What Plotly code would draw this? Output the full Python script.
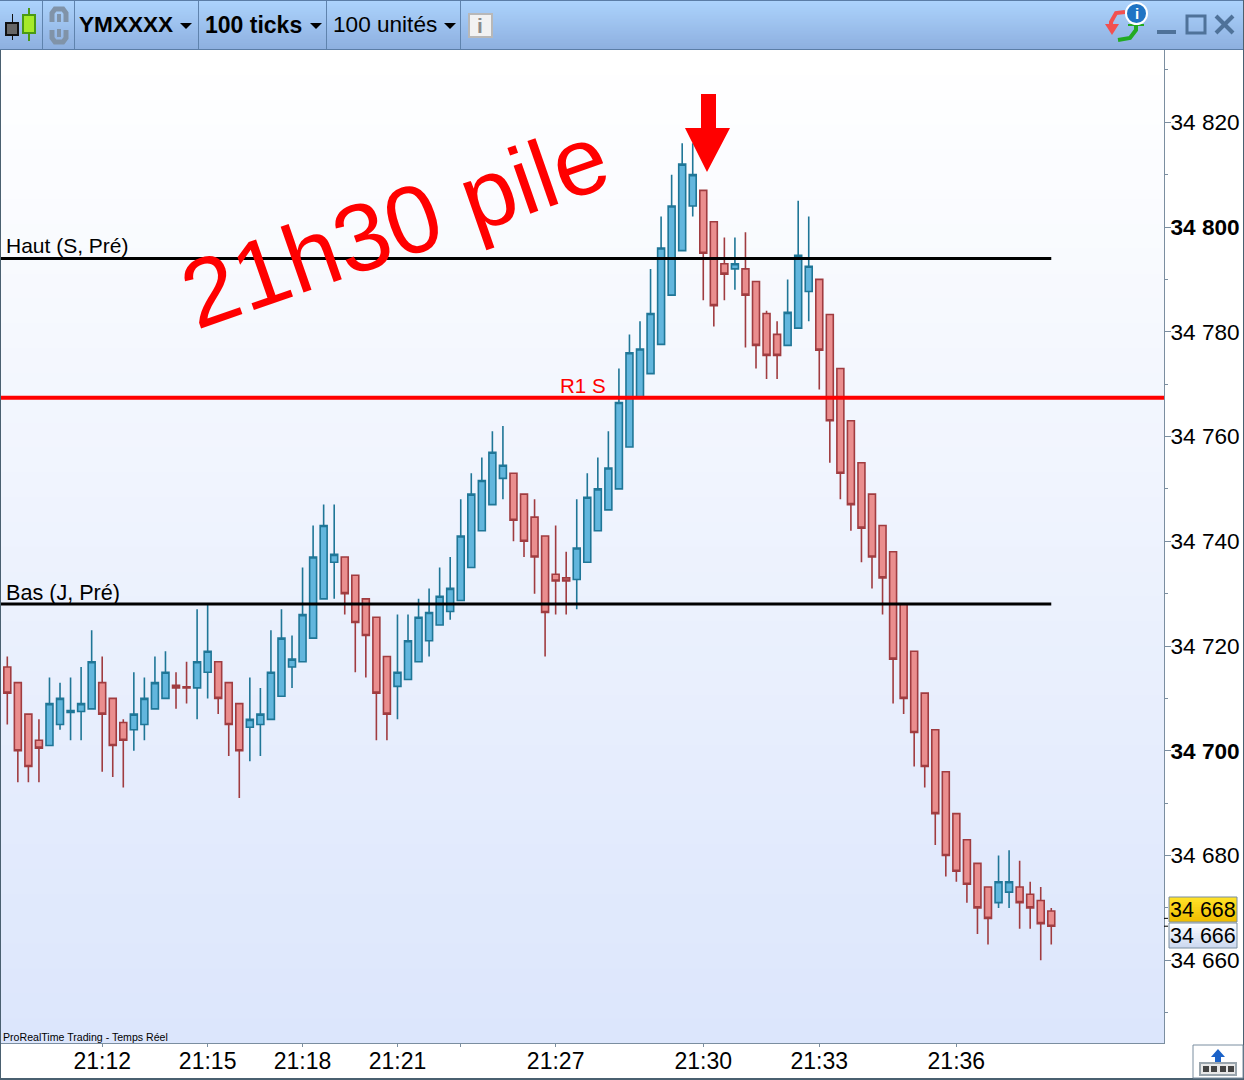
import plotly.graph_objects as go

opens = [34716,34713,34707,34702,34701,34705,34707.3,34707.5,34708,34713,
34710,34705.4,34704,34705,34708,34710,34712.5,34712.2,34712,34715,
34717,34713,34709,34704.5,34705,34706,34710.4,34716,34717,34721.5,
34729,34736,34737,34733.5,34729,34725.5,34718,34712.3,34713.6,34717,
34721,34724,34726.6,34728.7,34735,34742,34747,34752,34753,34749,
34744.6,34741,34733.7,34733,34732.7,34736,34742,34746,34750,34758,
34767.6,34772,34777.6,34787,34795.5,34804,34807,34801,34793,34792,
34792,34789.6,34783.5,34779.5,34777.4,34780.7,34787.7,34790,34783.3,34773,
34763,34755,34749,34743,34738,34728,34719,34711,34704,34696,
34688,34683,34678.5,34674,34671,34673,34674,34672.6,34671.4,34669.4]
highs = [34718,34713,34707,34706,34714,34713,34714,34716,34723,34718,
34710,34706,34715,34714,34718,34719,34715,34717,34727,34728,
34717,34713,34709,34714,34712,34723,34727,34722,34735,34743,
34747,34747,34737,34733.5,34729,34725.5,34718,34726,34726,34729,
34731,34735,34737,34748,34753,34756,34761,34762,34753,34749,
34748,34741,34743,34738,34748,34753,34756,34761,34773,34779.5,
34782,34792,34802,34810,34816,34816,34807,34801,34798,34798,
34799,34789.6,34784,34782,34790,34805,34802,34790,34783.3,34773,
34763,34755,34749,34743,34738,34728,34719,34711,34704,34696,
34688,34683,34678.5,34674,34680,34681,34679,34675,34674,34670]
lows = [34705,34694,34694,34694,34701,34704,34702,34702,34708,34696,
34695,34693,34700,34702,34708,34710,34708,34709,34706,34710,
34707,34699,34691,34698,34699,34706,34710.4,34712,34717,34721.5,
34729,34729,34726,34715,34714,34702,34702,34706,34713.6,34717,
34718,34724,34725,34728.7,34735,34742,34747,34748,34740,34737,
34730,34718,34726,34726,34727,34736,34742,34746,34750,34758,
34767.6,34772,34777.6,34787,34795.5,34802,34786,34781,34786,34788,
34777,34773,34771,34771,34777.4,34780.7,34782,34769,34755,34748,
34742,34736,34731,34726,34709,34707,34697,34693,34682,34676,
34675,34671,34665,34663,34670,34670,34666,34666,34660,34663]
closes = [34711,34700,34697,34700.5,34709,34710,34707.7,34709,34717,34707,
34701,34702,34707,34710,34713,34715,34712,34712,34717,34719,
34710,34705,34700,34706,34707,34715,34721.5,34717.5,34726,34737,
34743,34737.5,34730,34724.5,34722,34711,34707,34715,34721,34725.5,
34726.4,34729.5,34731,34741,34749,34751.6,34757,34754.5,34744,34740,
34737,34726.4,34732.4,34732.4,34738.7,34748.4,34750,34754,34766.5,34776,
34776.7,34783.5,34796,34804,34812,34810,34795,34785,34791,34793,
34787,34777.4,34775.5,34775.5,34783.7,34794.6,34792.5,34776.5,34763,34753,
34747,34742.5,34737,34733,34717.5,34710,34703.5,34697,34688,34680,
34677,34674.5,34670,34668,34675,34675,34671,34670,34667,34666.5]

time_positions = [9,19,28,37,43,52,66,77,90]
time_labels = ["21:12","21:15","21:18","21:21","","21:27","21:30","21:33","21:36"]
price_ticks = [34660,34680,34700,34720,34740,34760,34780,34800,34820]
price_labels = ["34 660","34 680","<b>34 700</b>","34 720","34 740","34 760","34 780","<b>34 800</b>","34 820"]
level_haut = 34794
level_bas = 34728
level_r1 = 34767.4
last_price = 34668
last_close = 34666.5

W, H = 1244, 1080
L, R, T, B = 1, 1164, 50, 1043
FONT = "Liberation Sans"

def px(x): return (x - L) / (R - L)
def py(y): return (B - y) / (B - T)

def rect(x0, y0, x1, y1, fill=None, line=None, lw=1, layer="above"):
    return dict(type="rect", xref="paper", yref="paper", x0=px(x0), x1=px(x1), y0=py(y0), y1=py(y1),
                fillcolor=fill or "rgba(0,0,0,0)", line=dict(color=line or "rgba(0,0,0,0)", width=lw if line else 0), layer=layer)

def poly(points, fill, line=None, lw=1, closed=True):
    d = "M " + " L ".join(f"{px(a):.5f},{py(b):.5f}" for a, b in points) + (" Z" if closed else "")
    return dict(type="path", xref="paper", yref="paper", path=d, fillcolor=fill if closed else "rgba(0,0,0,0)",
                line=dict(color=line or "rgba(0,0,0,0)", width=lw if line else 0), layer="above")

def lerp(a, b, t):
    return "rgb(" + ",".join(str(round(a[i] + (b[i] - a[i]) * t)) for i in range(3)) + ")"

def gradient(x0, y0, x1, y1, c0, c1, n, layer="above"):
    out = []
    for i in range(n):
        t = i / max(n - 1, 1)
        out.append(rect(x0, y0 + (y1 - y0) * i / n, x1, y1, fill=lerp(c0, c1, t), layer=layer))
    return out

def text(x, y, s, size, color="#000", xanchor="left", yanchor="middle", angle=0):
    return dict(x=px(x), y=py(y), xref="paper", yref="paper", text=s, showarrow=False, xanchor=xanchor, yanchor=yanchor,
                font=dict(family=FONT, size=size, color=color), textangle=angle, borderpad=0, borderwidth=0)

shapes = []
shapes += gradient(L, T, R, B, (255,255,255), (220,230,252), 40, layer="below")
shapes += gradient(0, 0, W, 49, (172,211,252), (142,176,224), 24)
shapes.append(rect(0, 49, W, 50, fill="#5b7da6"))
shapes.append(rect(0, 0, W, 1, fill="#5b7da6"))
for dx in [42, 74, 198, 326, 460]:
    shapes.append(rect(dx, 1, dx+1, 49, fill="#5f83ad"))
shapes.append(rect(12, 14, 13, 40, fill="#111"))
shapes.append(rect(6, 23, 18, 35, fill="#666", line="#111", lw=2))
shapes.append(rect(28, 8, 30, 41, fill="#4a9a14"))
shapes.append(rect(23, 15, 35, 33, fill="#a6ea2a", line="#4a9a14", lw=2))
shapes.append(poly([(52,22),(52,13),(55,9),(63,9),(66,13),(66,22)], "#000", "#8093a8", 5, closed=False))
shapes.append(poly([(59,14),(59,22)], "#000", "#8093a8", 4, closed=False))
shapes.append(poly([(52,30),(52,38),(55,42),(63,42),(66,38),(66,30)], "#000", "#8093a8", 5, closed=False))
shapes.append(poly([(59,29),(59,37)], "#000", "#8093a8", 4, closed=False))
for tx in [186, 316, 450]:
    shapes.append(poly([(tx-6,23),(tx+6,23),(tx,29)], "#000"))
shapes.append(rect(469, 14, 492, 37, fill="#f2f2f2", line="#b8b8b8", lw=2))
shapes.append(poly([(1125,12),(1116,13),(1111,22),(1111,25)], "#000", "#f25050", 4, closed=False))
shapes.append(poly([(1105,24),(1119,24),(1112,35)], "#f25050"))
shapes.append(poly([(1118,40),(1130,38),(1136,30),(1136,26)], "#000", "#22aa22", 4, closed=False))
shapes.append(poly([(1128,25),(1144,25)], "#000", "#22aa22", 2, closed=False))
shapes.append(dict(type="circle", xref="paper", yref="paper", x0=px(1126), x1=px(1147), y0=py(3), y1=py(24),
                   fillcolor="#1f74c4", line=dict(color="white", width=2), layer="above"))
shapes.append(rect(1157, 30, 1176, 34, fill="#4f7299"))
shapes.append(rect(1187, 16, 1205, 33, line="#4f7299", lw=3))
shapes.append(poly([(1216,16),(1233,33)], "#000", "#4f7299", 4, closed=False))
shapes.append(poly([(1233,16),(1216,33)], "#000", "#4f7299", 4, closed=False))
shapes.append(poly([(701,94),(716,94),(716,128),(730,128),(707,172),(685,128),(701,128)], "#ff0000"))
shapes.append(rect(0, 50, 1, 1080, fill="#4a6070"))
shapes.append(rect(0, 1078, W, 1080, fill="#4a6070"))
shapes.append(rect(1243, 0, 1244, 1080, fill="#4a6070"))
shapes += gradient(1169, 897, 1237, 922, (255,225,40), (240,190,0), 10)
shapes += gradient(1169, 923, 1237, 948, (250,252,255), (205,217,240), 10)
shapes.append(rect(1169, 897, 1237, 922, line="#7b8ea0", lw=1))
shapes.append(rect(1169, 923, 1237, 948, line="#7b8ea0", lw=1))
for p in [last_price, last_close]:
    shapes.append(dict(type="line", xref="paper", yref="y", x0=1, x1=px(1168), y0=p, y1=p, line=dict(color="#000", width=1), layer="above"))
shapes.append(rect(1193, 1045, 1243, 1078, fill="white", line="#7b8ea0", lw=1))
shapes.append(poly([(1218,1049),(1225,1057),(1221,1057),(1221,1063),(1215,1063),(1215,1057),(1211,1057)], "#1b62c8"))
shapes.append(rect(1200, 1063, 1236, 1075, fill="#e8e8e8", line="#9aa5ad", lw=2))
for kx in [1203, 1211, 1220, 1228]:
    shapes.append(rect(kx, 1066, kx+6, 1072, fill="#444"))

annotations = [
    text(6, 246, "Haut (S, Pré)", 21),
    text(6, 592, "Bas (J, Pré)", 21.6),
    text(560, 386, "R1 S", 20.5, color="#ff0000"),
    text(394.5, 225, "21h30 pile", 96, color="#ff0000", xanchor="center", angle=-19.2),
    text(3, 1037, "ProRealTime Trading - Temps Réel", 10.6),
    text(79, 25, "<b>YMXXXX</b>", 22.6),
    text(205, 25, "<b>100 ticks</b>", 23),
    text(333, 25, "100 unités", 22.6),
    text(480.5, 26, "<b>i</b>", 21, color="#8b8b8b", xanchor="center"),
    text(1136.5, 13, "<b>i</b>", 15, color="white", xanchor="center"),
    text(1203, 909.5, "34 668", 21.5, xanchor="center"),
    text(1203, 936, "34 666", 21.5, xanchor="center"),
]

fig = go.Figure()
fig.add_trace(go.Candlestick(
    x=list(range(len(opens))), open=opens, high=highs, low=lows, close=closes,
    increasing=dict(fillcolor="#62b6dd", line=dict(color="#1f7697", width=1.6)),
    decreasing=dict(fillcolor="#ea8e8e", line=dict(color="#a03c40", width=1.6)),
    whiskerwidth=0, showlegend=False, hoverinfo="skip",
))
n = len(opens)
fig.add_trace(go.Scatter(x=[-1, n-1], y=[level_haut]*2, mode="lines", line=dict(color="#000", width=3), showlegend=False, hoverinfo="skip"))
fig.add_trace(go.Scatter(x=[-1, n-1], y=[level_bas]*2, mode="lines", line=dict(color="#000", width=3), showlegend=False, hoverinfo="skip"))
fig.add_trace(go.Scatter(x=[-1, 111], y=[level_r1]*2, mode="lines", line=dict(color="#ff0000", width=4), showlegend=False, hoverinfo="skip"))

fig.update_layout(
    width=W, height=H, margin=dict(l=L, r=W-R, t=T, b=H-B), autosize=False,
    paper_bgcolor="white", plot_bgcolor="white", boxgap=0.34, boxgroupgap=0, showlegend=False,
    font=dict(family=FONT, color="#000"),
    shapes=shapes, annotations=annotations,
    xaxis=dict(range=[-0.597, 109.69], rangeslider=dict(visible=False), showgrid=False, zeroline=False,
               tickmode="array", tickvals=time_positions, ticktext=time_labels,
               ticks="outside", ticklen=3, tickcolor="#7b8ea0", tickfont=dict(size=23, color="#000"),
               ticklabelstandoff=-6,
               showline=True, linecolor="#7b8ea0", linewidth=1),
    yaxis=dict(range=[34644.2, 34833.8], side="right", showgrid=False, zeroline=False,
               tickmode="array", tickvals=price_ticks, ticktext=price_labels,
               ticks="outside", ticklen=6, tickcolor="#7b8ea0", tickfont=dict(size=22.6, color="#000"),
               ticklabelstandoff=-5,
               minor=dict(tickvals=[34650,34670,34690,34710,34730,34750,34770,34790,34810,34830], ticks="outside", ticklen=3, tickcolor="#7b8ea0"),
               showline=True, linecolor="#7b8ea0", linewidth=1),
)

fig.write_html("out.html", config={"displayModeBar": False},
               post_script="""var d=document.documentElement,b=document.body;
b.style.margin='0';b.style.padding='0';b.style.overflow='hidden';b.style.height='1080px';b.style.width='1244px';
d.style.margin='0';d.style.overflow='hidden';d.style.height='1080px';d.style.width='1244px';
var p=document.getElementsByClassName('plotly-graph-div')[0];p.parentElement.style.height='1080px';p.parentElement.style.overflow='hidden';""")
